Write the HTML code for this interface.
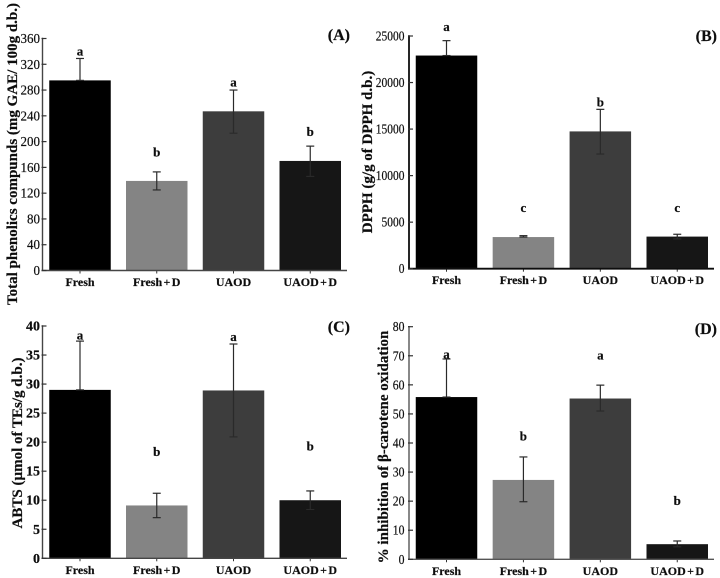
<!DOCTYPE html>
<html lang="en">
<head>
<meta charset="utf-8">
<title>Antioxidant bar charts</title>
<style>
html,body{margin:0;padding:0;background:#fff;width:720px;height:578px;overflow:hidden}
svg{display:block}
text{font-family:"Liberation Serif","DejaVu Serif",serif;fill:#111;stroke:#111;stroke-width:0.2px}
</style>
</head>
<body>
<svg id="figure" width="720" height="578" viewBox="0 0 720 578" xmlns="http://www.w3.org/2000/svg">
<defs><filter id="soft" x="0" y="0" width="100%" height="100%"><feGaussianBlur stdDeviation="0.35"/></filter></defs>
<g id="plots" filter="url(#soft)"></g>
</svg>
<script>
const categories = ["Fresh", "Fresh + D", "UAOD", "UAOD + D"];
const barColors = ["#000000", "#848484", "#3e3e3e", "#161616"];

const aTicks = ["0", "40", "80", "120", "160", "200", "240", "280", "320", "360"];
const aValues = [295, 139, 247, 170];
const aUpper = [329, 153, 280, 193];
const aLower = [295, 125, 213, 146];
const aLetters = ["a", "b", "a", "b"];
const aLetterLevels = [339, 182, 291, 214];

const bTicks = ["0", "5000", "10000", "15000", "20000", "25000"];
const bValues = [22900, 3400, 14750, 3450];
const bUpper = [24500, 3550, 17120, 3700];
const bLower = [22900, 3400, 12320, 3200];
const bLetters = ["a", "c", "b", "c"];
const bLetterLevels = [25940, 6480, 17800, 6480];

const cTicks = ["0", "5", "10", "15", "20", "25", "30", "35", "40"];
const cValues = [29, 9.1, 28.9, 10];
const cUpper = [37.4, 11.2, 36.9, 11.6];
const cLower = [29, 7, 20.9, 8.4];
const cLetters = ["a", "b", "a", "b"];
const cLetterLevels = [38.3, 18.2, 38, 19.2];

const dTicks = ["0", "10", "20", "30", "40", "50", "60", "70", "80"];
const dValues = [55.8, 27.3, 55.3, 5.2];
const dUpper = [68.9, 35.2, 59.9, 6.3];
const dLower = [55.8, 19.8, 51, 4.3];
const dLetters = ["a", "b", "a", "b"];
const dLetterLevels = [70.3, 42, 70, 19.8];

const plots = document.getElementById("plots");

function make(tag, attrs, text, parent) {
  const node = document.createElementNS("http://www.w3.org/2000/svg", tag);
  Object.keys(attrs).forEach(function (k) { node.setAttribute(k, attrs[k]); });
  if (text !== undefined && text !== null) node.textContent = text;
  parent.appendChild(node);
  return node;
}

function drawPanel(p) {
  const group = make("g", {}, null, plots);
  
  

  const maxValue = Number(p.ticks[p.ticks.length - 1]);
  const yScale = function (v) { return p.y0 - (v / maxValue) * (p.y0 - p.yTop); };
  const step = (p.xEnd - p.firstCenter - p.barWidth / 2 - 6) / (categories.length - 1);
  const xScale = function (i) { return p.firstCenter + i * step; };

  categories.forEach(function (cat, i) {
    const cx = xScale(i);
    const top = yScale(p.values[i]);

    const bar = make("rect", { x: cx - p.barWidth / 2, y: top, width: p.barWidth, height: p.y0 - top, fill: barColors[i] }, null, group);
    
    

    const errorBar = make("g", { stroke: "#2a2a2a", "stroke-width": 1.2, fill: "none" }, null, group);
    
    
    const yu = yScale(p.upper[i]);
    const yl = yScale(p.lower[i]);
    make("line", { x1: cx, x2: cx, y1: yu, y2: yl }, null, errorBar);
    make("line", { x1: cx - 4, x2: cx + 4, y1: yu, y2: yu }, null, errorBar);
    make("line", { x1: cx - 4, x2: cx + 4, y1: yl, y2: yl }, null, errorBar);

    const letter = make("text", { x: cx, y: yScale(p.letterLevels[i]) + 3.5, "text-anchor": "middle", "font-size": 13, "font-weight": "bold" }, p.letters[i], group);
    
    

    const tick = make("line", { x1: cx, x2: cx, y1: p.y0, y2: p.y0 + 3, stroke: "#333", "stroke-width": 1 }, null, group);
    
    

    const label = make("text", { x: cx, y: p.y0 + 15.5, "text-anchor": "middle", "font-size": 12, "font-weight": "bold", "word-spacing": "-1.6px" }, cat, group);
    
    
  });

  const xAxis = make("line", { x1: p.xAxis - 1, x2: p.xEnd, y1: p.y0, y2: p.y0, stroke: p.axisColor, "stroke-width": p.axisWidth }, null, group);
  
  

  const yAxis = make("line", { x1: p.xAxis, x2: p.xAxis, y1: p.yTop - 0.7, y2: p.y0, stroke: p.axisColor, "stroke-width": p.axisWidth }, null, group);
  
  

  p.ticks.forEach(function (t) {
    const y = yScale(Number(t));
    const tick = make("line", { x1: p.xAxis - 1, x2: p.xAxis + 4, y1: y, y2: y, stroke: "#333", "stroke-width": 1.2 }, null, group);
    
    

    const label = make("text", { transform: "translate(" + (p.xAxis - p.tickGap) + "," + (y + 4.5) + ") scale(" + p.tickStretch + ",1)", "text-anchor": "end", "font-size": 14, "font-weight": p.tickWeight }, t, group);
    
    
  });

  const title = make("text", { transform: "translate(" + p.titleX + "," + p.titleY + ") rotate(-90)", "text-anchor": "middle", "font-size": p.titleSize, "font-weight": "bold" }, p.title, group);
  
  

  const tag = make("text", { x: p.tagX, y: p.tagY, "text-anchor": "end", "font-size": 16, "font-weight": "bold" }, p.tag, group);
  
  
}

drawPanel({ id: "a", tag: "(A)", tagX: 350, tagY: 40, title: "Total phenolics compunds (mg GAE/ 100g d.b.)", titleX: 17, titleY: 154, titleSize: 15, xAxis: 42.5, xEnd: 347, y0: 270.5, yTop: 38.5, firstCenter: 80, barWidth: 61.5, tickWeight: "normal", tickStretch: 0.93, tickGap: 2.5, axisColor: "#444", axisWidth: 1.4, ticks: aTicks, values: aValues, upper: aUpper, lower: aLower, letters: aLetters, letterLevels: aLetterLevels });
drawPanel({ id: "b", tag: "(B)", tagX: 717, tagY: 41, title: "DPPH (g/g of DPPH d.b.)", titleX: 372, titleY: 152, titleSize: 15, xAxis: 409, xEnd: 714, y0: 268.7, yTop: 36, firstCenter: 446.5, barWidth: 61.5, tickWeight: "normal", tickStretch: 0.82, tickGap: 4.5, axisColor: "#111", axisWidth: 1.8, ticks: bTicks, values: bValues, upper: bUpper, lower: bLower, letters: bLetters, letterLevels: bLetterLevels });
drawPanel({ id: "c", tag: "(C)", tagX: 350, tagY: 332, title: "ABTS (\u00b5mol of TEs/g d.b.)", titleX: 22, titleY: 443, titleSize: 15, xAxis: 42.5, xEnd: 347, y0: 558.3, yTop: 326, firstCenter: 80, barWidth: 61.5, tickWeight: "bold", tickStretch: 1, tickGap: 2.5, axisColor: "#444", axisWidth: 1.4, ticks: cTicks, values: cValues, upper: cUpper, lower: cLower, letters: cLetters, letterLevels: cLetterLevels });
drawPanel({ id: "d", tag: "(D)", tagX: 717, tagY: 334, title: "% inhibition of \u03b2-carotene oxidation", titleX: 388, titleY: 447, titleSize: 15, xAxis: 409, xEnd: 714, y0: 559.3, yTop: 326.7, firstCenter: 446.5, barWidth: 61.5, tickWeight: "normal", tickStretch: 0.84, tickGap: 4.5, axisColor: "#555", axisWidth: 1.4, ticks: dTicks, values: dValues, upper: dUpper, lower: dLower, letters: dLetters, letterLevels: dLetterLevels });
</script>
</body>
</html>
